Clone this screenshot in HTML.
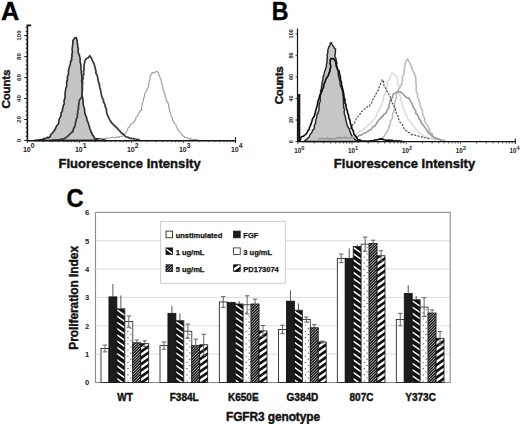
<!DOCTYPE html>
<html><head><meta charset="utf-8"><style>
html,body{margin:0;padding:0;background:#fff;width:520px;height:424px;overflow:hidden}
svg{display:block}
text{font-family:"Liberation Sans",sans-serif}
</style></head><body>
<svg width="520" height="424" viewBox="0 0 520 424">
<defs>
<pattern id="p1" patternUnits="userSpaceOnUse" width="5.12" height="5.12" patternTransform="rotate(35)">
  <rect width="5.12" height="5.12" fill="#111"/><rect width="5.12" height="1.75" fill="#fff"/>
</pattern>
<pattern id="p5" patternUnits="userSpaceOnUse" width="1.75" height="1.75" patternTransform="rotate(-42)">
  <rect width="1.75" height="1.75" fill="#fff"/><rect width="1.75" height="0.9" fill="#111"/>
</pattern>
<pattern id="pd" patternUnits="userSpaceOnUse" width="5.12" height="5.12" patternTransform="rotate(-35)">
  <rect width="5.12" height="5.12" fill="#fff"/><rect width="5.12" height="2.6" fill="#111"/>
</pattern>
<pattern id="p3" patternUnits="userSpaceOnUse" width="5" height="5">
  <rect width="5" height="5" fill="#fff"/>
</pattern>
<clipPath id="c3"><rect x="116.90" y="308.79" width="7.95" height="73.71"/></clipPath><clipPath id="c5"><rect x="132.80" y="342.81" width="7.95" height="39.69"/></clipPath><clipPath id="c6"><rect x="140.75" y="343.66" width="7.95" height="38.84"/></clipPath><clipPath id="c9"><rect x="175.90" y="320.70" width="7.95" height="61.80"/></clipPath><clipPath id="c11"><rect x="191.80" y="345.64" width="7.95" height="36.86"/></clipPath><clipPath id="c12"><rect x="199.75" y="344.79" width="7.95" height="37.71"/></clipPath><clipPath id="c15"><rect x="235.20" y="303.97" width="7.95" height="78.53"/></clipPath><clipPath id="c17"><rect x="251.10" y="303.97" width="7.95" height="78.53"/></clipPath><clipPath id="c18"><rect x="259.05" y="330.90" width="7.95" height="51.60"/></clipPath><clipPath id="c21"><rect x="294.40" y="310.21" width="7.95" height="72.29"/></clipPath><clipPath id="c23"><rect x="310.30" y="327.78" width="7.95" height="54.72"/></clipPath><clipPath id="c24"><rect x="318.25" y="341.96" width="7.95" height="40.54"/></clipPath><clipPath id="c27"><rect x="353.20" y="246.42" width="7.95" height="136.08"/></clipPath><clipPath id="c29"><rect x="369.10" y="243.59" width="7.95" height="138.91"/></clipPath><clipPath id="c30"><rect x="377.05" y="255.78" width="7.95" height="126.72"/></clipPath><clipPath id="c33"><rect x="412.20" y="299.72" width="7.95" height="82.78"/></clipPath><clipPath id="c35"><rect x="428.10" y="313.04" width="7.95" height="69.46"/></clipPath><clipPath id="c36"><rect x="436.05" y="338.27" width="7.95" height="44.23"/></clipPath><clipPath id="c39"><rect x="166.00" y="247.90" width="6.60" height="6.70"/></clipPath><clipPath id="c41"><rect x="166.00" y="264.80" width="6.60" height="6.70"/></clipPath><clipPath id="c42"><rect x="233.60" y="264.80" width="6.60" height="6.70"/></clipPath></defs>
<rect width="520" height="424" fill="#fff"/>
<path d="M34.0,140.5 L35.7,140.3 L37.9,140.0 L39.2,139.9 L40.5,139.6 L42.5,139.4 L43.7,138.6 L45.3,138.6 L47.4,137.4 L49.0,137.6 L50.1,136.7 L50.5,135.0 L51.7,133.8 L52.6,132.7 L53.6,131.4 L54.7,130.1 L55.4,128.6 L56.1,127.2 L56.9,125.4 L58.2,124.3 L58.8,122.5 L58.9,120.4 L59.4,118.6 L60.2,117.4 L60.7,115.9 L61.2,115.0 L60.9,113.0 L62.0,111.8 L62.6,110.2 L62.3,108.8 L63.3,106.9 L63.1,105.6 L64.3,104.0 L64.0,101.7 L64.3,99.6 L65.1,97.9 L65.1,96.2 L65.0,94.3 L65.2,92.5 L65.5,90.2 L65.9,87.9 L66.8,86.0 L66.6,83.8 L66.8,81.4 L67.6,79.7 L67.3,78.2 L67.7,75.8 L68.5,74.1 L68.4,72.0 L68.5,70.5 L69.0,68.5 L69.4,66.5 L70.2,64.8 L70.4,63.3 L70.7,61.2 L71.8,59.8 L71.5,57.7 L72.1,56.4 L71.8,54.4 L72.5,52.2 L72.2,50.0 L72.1,49.0 L72.4,47.1 L72.5,45.7 L72.9,43.8 L72.8,42.3 L72.9,40.5 L73.6,39.6 L74.6,37.9 L76.3,37.7 L76.6,39.0 L77.3,40.7 L77.2,42.8 L77.7,44.6 L77.7,46.8 L78.3,48.2 L78.3,49.8 L78.0,50.9 L78.3,53.3 L79.5,54.8 L79.4,56.0 L80.1,58.2 L80.1,60.2 L80.1,61.8 L80.7,64.1 L80.9,65.9 L81.1,67.8 L80.9,69.5 L81.5,71.4 L81.3,73.2 L81.8,75.0 L81.8,76.8 L81.9,79.1 L81.6,81.3 L82.5,83.6 L82.4,85.5 L82.5,88.1 L82.3,90.8 L82.1,93.3 L82.1,95.6 L82.6,97.6 L83.0,99.8 L83.1,102.0 L83.1,103.0 L83.4,105.2 L83.7,106.5 L84.6,108.8 L84.5,110.8 L84.8,112.5 L85.1,114.1 L86.0,116.2 L86.6,117.5 L86.9,119.0 L87.0,120.6 L88.1,122.4 L88.6,124.1 L88.8,125.0 L89.4,126.8 L89.8,128.5 L90.6,130.1 L90.9,131.8 L92.0,133.1 L91.9,134.1 L93.3,135.6 L94.1,137.3 L95.0,138.7 L96.4,138.7 L98.4,138.7 L100.2,139.1 L101.1,139.1 L103.0,139.7 L104.4,140.1 L106.1,140.6 L105.9,140.2 Z" fill="#c5c5c5" stroke="#2a2a2a" stroke-width="1.6"/>
<path d="M98.0,139.6 L99.5,139.4 L101.4,139.2 L103.5,138.3 L104.5,139.0 L106.3,138.1 L109.1,138.0 L110.8,137.7 L112.6,137.1 L114.1,137.8 L115.6,137.6 L117.4,136.8 L119.0,137.3 L120.3,136.3 L122.3,136.2 L123.4,135.7 L124.7,134.5 L125.3,133.2 L126.2,132.2 L127.7,129.8 L127.7,128.3 L129.6,126.9 L130.2,125.2 L131.1,124.1 L132.1,123.2 L133.5,122.5 L134.7,120.9 L135.6,119.7 L136.0,117.3 L137.1,116.5 L137.9,114.7 L138.6,113.0 L139.6,112.4 L140.1,110.6 L141.7,110.3 L141.4,108.0 L142.1,105.2 L142.3,103.8 L143.3,101.0 L143.2,99.5 L143.6,98.2 L144.3,97.6 L144.3,96.3 L144.7,93.7 L145.6,92.2 L145.9,91.4 L147.3,89.9 L147.1,89.4 L147.8,88.1 L148.8,85.8 L148.5,84.3 L149.0,82.8 L149.3,80.9 L150.2,78.9 L150.0,77.6 L150.3,75.6 L151.7,74.5 L152.0,72.4 L153.1,72.6 L153.9,73.1 L155.9,71.6 L157.1,71.6 L158.4,72.5 L159.0,74.4 L158.7,74.9 L160.1,77.3 L160.2,78.3 L161.1,79.5 L161.2,81.1 L161.7,83.2 L162.0,84.7 L162.8,85.7 L162.8,88.0 L162.9,89.2 L164.0,90.7 L163.9,92.4 L165.0,93.7 L164.8,95.6 L165.7,97.1 L166.1,98.3 L166.2,100.5 L167.7,101.7 L167.6,102.6 L168.5,104.1 L169.0,106.3 L168.5,107.2 L169.6,109.4 L169.9,110.4 L169.5,111.9 L170.8,113.5 L170.8,115.3 L171.4,116.8 L172.6,117.8 L172.4,120.6 L174.4,122.4 L174.8,124.2 L176.0,124.6 L176.4,126.6 L177.0,127.5 L177.4,129.0 L178.3,130.2 L179.6,131.9 L180.8,132.9 L182.0,134.8 L183.1,136.0 L184.3,136.5 L184.4,137.4 L186.0,137.5 L188.0,138.2 L189.1,139.0 L190.7,138.6 L192.1,139.5 L194.3,139.6 L195.7,139.1 L197.5,140.0 L198.5,139.7" fill="none" stroke="#9c9c9c" stroke-width="1.1"/>
<path d="M50.0,140.5 L51.8,140.5 L53.6,139.9 L54.9,139.9 L56.6,140.1 L58.4,139.8 L59.9,139.6 L61.3,139.0 L63.0,139.0 L64.6,138.4 L66.0,137.6 L67.5,136.4 L69.1,134.9 L69.7,134.4 L71.4,132.5 L72.9,131.8 L73.1,129.8 L73.7,128.4 L74.7,126.8 L75.2,124.9 L75.3,123.5 L75.8,121.8 L76.2,120.5 L76.4,118.7 L77.0,117.9 L77.5,116.2 L77.3,114.4 L77.9,113.2 L77.7,111.3 L78.1,110.0 L78.6,108.5 L78.2,107.4 L78.7,105.7 L78.8,103.6 L79.2,101.9 L79.4,100.0 L80.5,98.7 L81.5,97.2 L82.2,95.7 L82.0,93.9 L82.1,91.9 L82.2,90.4 L82.2,88.4 L82.0,86.5 L82.3,84.1 L82.7,82.8 L82.3,80.4 L83.1,78.7 L82.9,76.8 L82.9,75.7 L83.8,74.5 L83.6,72.2 L83.6,71.3 L84.1,69.6 L83.8,67.9 L84.1,66.3 L84.0,65.0 L84.7,62.9 L84.6,61.8 L85.1,60.3 L86.2,58.8 L87.9,58.0 L88.7,57.1 L89.8,56.0 L90.3,56.8 L91.3,57.8 L92.0,59.8 L92.7,61.1 L93.6,62.9 L94.1,63.9 L94.6,66.0 L95.2,67.4 L95.3,69.1 L96.0,71.2 L95.9,73.2 L97.1,75.1 L97.6,77.1 L97.8,78.8 L98.1,80.1 L98.5,82.1 L99.4,84.3 L99.6,86.0 L99.7,87.8 L100.6,89.5 L100.7,91.4 L101.1,93.4 L101.4,94.8 L102.1,97.4 L102.9,98.8 L103.6,100.1 L103.4,101.7 L104.3,103.1 L105.0,104.9 L105.2,106.8 L106.3,108.4 L106.3,110.5 L106.7,112.4 L107.2,114.4 L108.0,115.7 L108.2,116.8 L109.4,119.0 L109.9,120.3 L111.1,121.8 L111.6,123.0 L112.9,124.0 L114.0,125.4 L115.5,126.5 L116.4,127.5 L117.7,128.6 L118.6,129.8 L119.7,130.8 L120.7,132.3 L121.9,133.2 L123.5,134.5 L124.7,135.7 L125.9,136.8 L127.8,137.0 L128.8,137.9 L130.9,138.4 L132.4,138.6 L133.8,138.7 L135.2,139.0 L136.9,139.3 L139.0,139.5 L139.6,139.9" fill="none" stroke="#3a3a3a" stroke-width="1.75"/>
<path d="M31.2,25.4 H27.4 V140.7 H235.5" fill="none" stroke="#111" stroke-width="1.6"/>
<path d="M25.6,140.5H27.5 M25.6,136.3H27.5 M25.6,132.1H27.5 M25.6,127.9H27.5 M25.6,123.7H27.5 M25.6,119.5H27.5 M25.6,115.3H27.5 M25.6,111.1H27.5 M25.6,106.9H27.5 M25.6,102.7H27.5 M25.6,98.5H27.5 M25.6,94.3H27.5 M25.6,90.1H27.5 M25.6,86.0H27.5 M25.6,81.8H27.5 M25.6,77.6H27.5 M25.6,73.4H27.5 M25.6,69.2H27.5 M25.6,65.0H27.5 M25.6,60.8H27.5 M25.6,56.6H27.5 M25.6,52.4H27.5 M25.6,48.2H27.5 M25.6,44.0H27.5 M25.6,39.8H27.5 M25.6,35.6H27.5 M25.6,31.4H27.5 M25.6,27.2H27.5 M24.2,140.5H27.5 M24.2,119.5H27.5 M24.2,98.5H27.5 M24.2,77.6H27.5 M24.2,56.6H27.5 M24.2,35.6H27.5" stroke="#111" stroke-width="0.9"/>
<text x="0" y="0" transform="translate(20.5,140.5) rotate(-90)" text-anchor="middle" font-size="6.2" font-weight="bold" font-family="'Liberation Sans', sans-serif" fill="#222">0</text>
<text x="0" y="0" transform="translate(20.5,119.5) rotate(-90)" text-anchor="middle" font-size="6.2" font-weight="bold" font-family="'Liberation Sans', sans-serif" fill="#222">20</text>
<text x="0" y="0" transform="translate(20.5,98.5) rotate(-90)" text-anchor="middle" font-size="6.2" font-weight="bold" font-family="'Liberation Sans', sans-serif" fill="#222">40</text>
<text x="0" y="0" transform="translate(20.5,77.6) rotate(-90)" text-anchor="middle" font-size="6.2" font-weight="bold" font-family="'Liberation Sans', sans-serif" fill="#222">60</text>
<text x="0" y="0" transform="translate(20.5,56.6) rotate(-90)" text-anchor="middle" font-size="6.2" font-weight="bold" font-family="'Liberation Sans', sans-serif" fill="#222">80</text>
<text x="0" y="0" transform="translate(20.5,35.6) rotate(-90)" text-anchor="middle" font-size="6.2" font-weight="bold" font-family="'Liberation Sans', sans-serif" fill="#222">100</text>
<path d="M27.5,140.5V143 M43.2,140.5V142.3 M52.3,140.5V142.3 M58.8,140.5V142.3 M63.8,140.5V142.3 M68.0,140.5V142.3 M71.4,140.5V142.3 M74.5,140.5V142.3 M77.1,140.5V142.3 M79.5,140.5V143 M95.2,140.5V142.3 M104.3,140.5V142.3 M110.8,140.5V142.3 M115.8,140.5V142.3 M120.0,140.5V142.3 M123.4,140.5V142.3 M126.5,140.5V142.3 M129.1,140.5V142.3 M131.5,140.5V143 M147.2,140.5V142.3 M156.3,140.5V142.3 M162.8,140.5V142.3 M167.8,140.5V142.3 M172.0,140.5V142.3 M175.4,140.5V142.3 M178.5,140.5V142.3 M181.1,140.5V142.3 M183.5,140.5V143 M199.2,140.5V142.3 M208.3,140.5V142.3 M214.8,140.5V142.3 M219.8,140.5V142.3 M224.0,140.5V142.3 M227.4,140.5V142.3 M230.5,140.5V142.3 M233.1,140.5V142.3" stroke="#222" stroke-width="0.7"/>
<path d="M235.5,137V143" stroke="#111" stroke-width="1"/>
<text x="22.9" y="151.9" font-size="7" font-weight="bold" font-family="'Liberation Sans', sans-serif" fill="#222">10<tspan dy="-3.6" font-size="6.8">0</tspan></text>
<text x="74.9" y="151.9" font-size="7" font-weight="bold" font-family="'Liberation Sans', sans-serif" fill="#222">10<tspan dy="-3.6" font-size="6.8">1</tspan></text>
<text x="126.9" y="151.9" font-size="7" font-weight="bold" font-family="'Liberation Sans', sans-serif" fill="#222">10<tspan dy="-3.6" font-size="6.8">2</tspan></text>
<text x="178.9" y="151.9" font-size="7" font-weight="bold" font-family="'Liberation Sans', sans-serif" fill="#222">10<tspan dy="-3.6" font-size="6.8">3</tspan></text>
<text x="230.9" y="151.9" font-size="7" font-weight="bold" font-family="'Liberation Sans', sans-serif" fill="#222">10<tspan dy="-3.6" font-size="6.8">4</tspan></text>
<text x="58.4" y="167.6" font-size="13" font-weight="bold" stroke="#111" stroke-width="0.4" font-family="'Liberation Sans', sans-serif" textLength="142.3" lengthAdjust="spacing" fill="#111">Fluorescence Intensity</text>
<text x="0" y="0" transform="translate(10.1,108.4) rotate(-90)" font-size="11.6" font-weight="bold" stroke="#111" stroke-width="0.4" font-family="'Liberation Sans', sans-serif" textLength="38.8" lengthAdjust="spacing" fill="#111">Counts</text>
<text x="0" y="0" transform="translate(1,19.9) scale(1.035,1.04)" font-size="24.5" font-weight="bold" stroke="#111" stroke-width="0.4" font-family="'Liberation Sans', sans-serif" fill="#000">A</text>
<path d="M304.0,141.5 L305.0,140.6 L306.8,139.3 L307.7,138.3 L309.1,137.0 L309.7,135.6 L310.1,134.5 L311.4,132.9 L312.3,131.7 L312.5,130.2 L313.8,129.4 L314.3,127.8 L314.2,125.9 L315.0,124.3 L315.7,122.9 L315.5,121.6 L315.8,120.0 L316.5,118.0 L316.8,116.4 L317.1,114.5 L318.0,113.1 L318.4,111.5 L318.9,110.3 L319.0,108.4 L319.2,106.4 L319.1,104.2 L320.0,101.9 L320.3,100.3 L320.2,97.7 L320.4,95.5 L321.1,93.2 L320.5,90.7 L321.4,89.1 L321.6,86.4 L322.0,84.2 L322.2,81.8 L322.9,79.6 L323.0,77.1 L323.6,75.9 L324.1,73.9 L324.5,71.9 L324.8,70.9 L325.7,68.9 L326.0,67.4 L326.5,66.0 L326.4,64.3 L327.0,62.3 L327.2,60.5 L327.0,58.5 L327.5,56.7 L327.0,55.4 L327.6,53.5 L327.9,51.6 L327.8,50.0 L328.4,48.4 L328.7,46.9 L329.7,46.0 L330.1,44.2 L330.3,43.1 L331.5,42.7 L331.6,43.8 L332.9,45.6 L333.7,46.7 L334.3,48.0 L335.6,49.3 L335.4,51.1 L335.4,52.4 L335.1,54.8 L334.8,56.2 L335.7,58.1 L336.0,59.0 L336.2,61.3 L337.0,62.9 L336.6,64.4 L336.8,66.2 L337.1,68.3 L337.8,69.4 L338.0,71.3 L338.2,72.9 L338.2,74.5 L338.6,76.3 L339.1,78.0 L339.6,80.3 L340.1,81.9 L339.9,83.3 L340.3,84.9 L340.8,86.3 L341.3,87.7 L341.7,88.6 L342.2,90.5 L342.9,92.4 L342.8,94.7 L343.3,96.5 L343.2,99.2 L343.5,102.1 L343.5,104.6 L343.8,106.0 L343.6,107.8 L344.5,109.1 L344.2,111.3 L344.2,112.2 L344.4,114.4 L345.1,115.7 L345.3,116.8 L345.8,119.6 L346.3,121.7 L346.8,123.4 L347.2,125.3 L348.0,127.1 L349.1,128.7 L349.4,129.8 L349.9,131.4 L350.7,133.1 L351.2,134.6 L352.5,136.5 L353.8,138.1 L354.7,139.3 L356.1,140.4 L357.9,141.0 L359.1,141.6 L360.0,141.5 Z" fill="#c6c6c6" stroke="#222" stroke-width="1.4"/>
<path d="M348.0,139.0 L349.8,138.5 L351.4,138.1 L352.8,137.2 L353.7,135.5 L356.0,134.9 L357.2,133.4 L358.0,132.7 L359.4,132.2 L360.2,130.9 L361.9,130.8 L363.8,129.0 L365.1,128.1 L366.3,126.8 L366.8,126.6 L368.2,124.6 L370.5,124.0 L371.1,122.6 L372.8,120.8 L373.6,119.5 L375.3,117.9 L376.5,115.4 L376.8,113.6 L377.6,111.8 L378.9,110.8 L379.5,109.1 L380.7,106.8 L381.7,105.6 L381.6,104.2 L382.4,102.3 L383.2,100.9 L383.3,100.6 L382.9,99.2 L383.8,97.6 L383.8,95.6 L384.4,95.3 L384.8,93.8 L386.0,92.6 L385.7,90.5 L386.4,89.0 L386.4,86.9 L387.7,85.0 L387.3,83.2 L387.9,80.6 L389.2,79.5 L389.6,77.9 L390.6,75.8 L391.2,74.2 L392.0,73.2 L394.1,74.4 L394.6,74.5 L396.5,76.3 L396.5,77.2 L397.3,79.4 L397.6,80.7 L397.4,82.7 L397.6,83.7 L398.8,84.8 L398.9,87.3 L398.9,88.8 L398.3,90.1 L398.5,92.3 L399.0,93.8 L400.2,96.2 L400.8,97.9 L400.9,100.5 L401.6,102.3 L402.3,104.4 L403.0,107.7 L404.6,109.6 L404.8,111.6 L405.3,113.8 L407.1,116.7 L407.7,118.6 L409.6,120.5 L410.9,122.5 L412.0,124.2 L413.2,125.5 L414.8,127.1 L415.1,128.5 L416.6,129.4 L417.0,130.6 L418.6,132.1 L420.3,133.6 L422.0,134.8 L423.4,135.7 L425.3,136.6 L426.3,137.2 L428.4,137.5 L429.9,138.3 L430.7,138.2 L431.7,139.0 L434.0,138.9 L435.4,139.6 L436.0,139.5" fill="none" stroke="#d6d6d6" stroke-width="1.3"/>
<path d="M372.0,140.3 L374.3,140.5 L375.7,139.6 L377.0,139.8 L379.3,139.5 L380.5,139.1 L381.9,138.3 L383.8,136.7 L384.8,135.4 L385.4,133.8 L387.0,131.8 L388.0,130.4 L388.9,128.0 L388.8,126.6 L390.4,124.0 L390.3,121.5 L391.6,119.3 L392.7,117.4 L392.3,115.2 L393.0,113.3 L394.2,110.5 L394.2,108.5 L394.8,106.6 L394.3,103.6 L395.4,101.3 L395.8,98.7 L396.6,97.0 L396.1,94.9 L397.0,92.2 L398.0,90.3 L398.6,89.5 L400.2,86.8 L401.2,85.1 L401.5,84.1 L402.4,80.9 L402.4,79.6 L402.3,78.9 L402.4,76.7 L403.5,75.2 L403.9,73.6 L404.3,71.8 L404.3,69.7 L404.4,67.9 L405.1,66.0 L405.1,64.4 L405.6,61.9 L406.5,60.6 L406.9,59.6 L407.8,59.0 L408.6,61.2 L409.5,62.2 L410.3,64.6 L410.7,65.8 L411.9,67.4 L411.7,68.7 L412.6,69.7 L413.2,71.5 L414.5,73.3 L415.0,76.2 L415.9,78.2 L415.7,79.8 L415.7,81.8 L416.4,84.3 L416.0,85.1 L416.4,87.2 L416.1,90.0 L416.4,91.8 L417.0,93.8 L417.8,94.3 L417.3,96.7 L418.4,98.6 L419.3,101.2 L419.7,102.8 L419.9,104.7 L420.6,107.3 L421.8,109.0 L422.5,111.2 L422.5,114.1 L423.7,116.7 L424.7,118.7 L424.9,121.1 L425.7,123.2 L427.6,125.8 L428.6,127.4 L429.3,129.9 L429.8,132.1 L431.8,133.4 L432.8,135.2 L433.4,137.0 L434.2,138.3 L437.1,138.7 L438.8,139.1 L440.4,139.7 L442.5,140.3 L444.5,140.1 L445.1,141.1 L446.0,140.8" fill="none" stroke="#bdbdbd" stroke-width="1.6"/>
<path d="M318.0,139.5 L319.6,138.8 L321.7,138.5 L323.4,138.6 L324.6,138.6 L326.2,138.4 L327.9,138.1 L329.9,139.1 L331.1,138.4 L333.4,139.4 L334.9,138.6 L337.0,137.9 L338.4,137.9 L339.2,137.4 L341.0,138.0 L342.4,137.7 L344.6,137.6 L346.1,137.4 L347.1,137.8 L349.4,138.1 L350.6,138.2 L352.4,137.6 L354.4,137.7 L355.3,137.1 L357.2,137.0 L358.9,135.8 L360.6,135.0 L361.3,135.1 L362.3,134.1 L363.5,133.6 L365.7,132.7 L367.2,131.6 L368.3,131.1 L369.5,130.0 L371.1,129.6 L372.0,128.1 L372.9,126.9 L375.0,125.8 L376.6,123.5 L377.3,122.6 L378.1,121.0 L379.5,119.2 L380.5,118.7 L381.7,116.7 L383.1,116.1 L383.7,114.3 L385.3,113.5 L386.5,112.1 L386.8,110.2 L387.7,109.4 L389.1,107.2 L388.8,105.4 L389.4,103.7 L390.2,102.0 L390.1,100.7 L391.1,99.2 L392.5,97.6 L392.7,95.8 L393.6,93.7 L395.2,93.2 L396.7,92.3 L397.7,91.5 L399.0,91.8 L400.3,91.9 L401.7,93.1 L403.0,93.9 L403.7,95.0 L405.3,96.4 L406.6,97.7 L408.7,97.8 L409.7,99.8 L410.7,101.1 L412.2,104.0 L412.6,105.4 L413.1,106.9 L414.3,108.9 L415.7,110.6 L415.6,113.3 L417.1,114.2 L418.1,115.8 L419.0,118.8 L420.5,120.2 L420.9,121.7 L422.0,123.9 L423.6,125.7 L424.5,126.7 L426.1,129.3 L427.3,130.7 L428.3,132.2 L428.8,133.4 L430.2,134.0 L431.1,135.4 L432.8,136.9 L435.0,137.5 L436.3,138.8 L437.6,138.7 L438.0,139.1 L439.9,139.7 L441.8,140.9 L442.0,140.5" fill="none" stroke="#9a9a9a" stroke-width="1.6"/>
<path d="M350.5,129.0 L351.2,127.0 L352.2,125.8 L352.5,124.8 L354.4,123.6 L355.2,121.2 L356.0,119.4 L356.6,117.5 L357.7,116.9 L359.4,115.2 L360.5,112.9 L361.0,111.9 L362.7,110.9 L364.1,108.9 L365.2,108.8 L366.5,107.4 L367.8,106.5 L369.5,106.4 L370.0,104.6 L371.1,103.8 L371.7,102.8 L372.2,100.5 L373.3,98.9 L373.8,97.2 L375.6,95.4 L375.7,94.3 L376.6,92.9 L377.4,91.4 L378.6,89.8 L378.6,88.4 L379.5,86.9 L379.9,85.7 L380.7,83.5 L382.1,81.2 L382.1,80.0 L383.7,81.5 L383.5,83.0 L383.8,85.0 L384.3,86.8 L386.0,88.6 L386.6,90.1 L386.7,91.0 L388.5,92.8 L388.9,94.8 L390.0,96.2 L390.2,97.0 L391.0,98.5 L391.6,101.1 L392.1,101.5 L392.4,103.4 L393.8,105.0 L393.9,106.4 L395.6,109.0 L395.6,110.9 L396.3,113.5 L398.1,115.8 L398.2,118.3 L399.3,120.8 L400.0,122.1 L401.6,123.7 L402.8,125.4 L403.1,126.9 L404.0,128.4 L405.6,130.4 L407.6,131.3 L408.2,132.2 L410.0,133.1 L411.8,134.8 L413.6,134.5 L416.4,135.7 L418.3,136.0 L419.8,136.7 L421.1,137.1 L422.8,136.6 L424.3,137.7 L426.8,138.1 L427.8,138.2 L430.1,138.6 L430.0,138.5" fill="none" stroke="#444" stroke-width="1.1" stroke-dasharray="2.2,1.3"/>
<path d="M300.0,141.0 L300.6,139.1 L300.3,138.4 L301.5,136.7 L303.4,136.2 L304.8,135.2 L306.0,134.2 L306.5,133.4 L307.3,132.1 L308.3,130.2 L309.3,129.1 L309.6,126.7 L310.5,125.4 L311.1,123.9 L311.6,122.2 L312.1,120.5 L312.3,119.4 L313.2,117.6 L314.5,116.0 L314.6,114.7 L315.5,112.7 L315.5,111.1 L315.9,110.0 L316.5,108.1 L316.8,106.8 L317.6,104.6 L317.6,103.0 L318.0,101.3 L318.7,99.3 L319.4,97.7 L319.5,96.2 L320.4,93.9 L321.2,92.4 L322.2,90.7 L322.4,89.0 L323.4,87.7 L323.6,86.5 L323.8,85.1 L324.2,83.4 L324.8,82.6 L325.4,80.7 L326.2,78.7 L326.8,77.7 L328.1,75.8 L328.8,73.9 L329.1,72.7 L329.9,71.4 L329.9,69.9 L330.4,68.1 L330.7,67.0 L330.6,65.4 L330.0,63.3 L330.4,61.5 L330.1,60.0 L331.1,58.4 L332.1,58.7 L333.6,58.9 L334.6,60.0 L335.8,61.4 L335.7,63.1 L336.1,64.6 L336.3,66.4 L337.4,68.3 L337.5,69.6 L339.1,70.9 L339.4,73.2 L339.9,74.9 L340.4,76.4 L340.3,78.1 L340.6,79.7 L341.1,81.4 L341.6,83.3 L341.2,84.6 L342.1,86.3 L342.4,88.3 L343.0,90.1 L343.2,92.5 L343.7,93.3 L343.8,95.1 L344.2,98.3 L344.9,99.1 L344.9,101.3 L345.0,103.1 L346.0,104.6 L345.9,106.5 L346.4,107.6 L346.5,109.1 L347.3,110.8 L347.8,113.5 L348.6,115.2 L348.7,117.8 L349.6,119.4 L350.1,121.3 L350.3,123.1 L351.1,125.3 L351.8,127.7 L352.1,129.2 L353.3,130.9 L353.6,132.5 L353.8,134.0 L355.1,135.7 L356.3,136.7 L356.7,138.1 L358.1,139.7 L360.0,140.1 L361.3,140.8 L363.1,141.2 L365.9,141.1 L368.2,141.3 L370.1,140.9 L371.4,140.8 L372.9,141.1 L374.9,140.0 L376.4,139.8 L378.0,139.5 L379.2,139.2 L380.9,138.9 L382.7,139.1 L384.0,140.0 L385.8,140.0 L386.6,140.7 L388.8,140.2 L390.4,140.3 L392.3,140.4 L394.7,141.3 L396.7,140.7 L397.9,141.4 L399.3,140.9 L401.7,141.4 L403.9,141.7 L403.6,141.6" fill="none" stroke="#111" stroke-width="1.7"/>
<path d="M299.2,94V141.5" stroke="#111" stroke-width="2.2"/>
<path d="M297.5,28.5 V141.6 H515.5" fill="none" stroke="#111" stroke-width="1.2"/>
<path d="M295.5,141.6H297.5 M295.5,120.0H297.5 M295.5,98.5H297.5 M295.5,76.9H297.5 M295.5,55.4H297.5 M295.5,33.8H297.5" stroke="#111" stroke-width="0.8"/>
<text x="0" y="0" transform="translate(292.5,141.6) rotate(-90)" text-anchor="middle" font-size="5.6" font-weight="bold" font-family="'Liberation Sans', sans-serif" fill="#222">0</text>
<text x="0" y="0" transform="translate(292.5,120.0) rotate(-90)" text-anchor="middle" font-size="5.6" font-weight="bold" font-family="'Liberation Sans', sans-serif" fill="#222">20</text>
<text x="0" y="0" transform="translate(292.5,98.5) rotate(-90)" text-anchor="middle" font-size="5.6" font-weight="bold" font-family="'Liberation Sans', sans-serif" fill="#222">40</text>
<text x="0" y="0" transform="translate(292.5,76.9) rotate(-90)" text-anchor="middle" font-size="5.6" font-weight="bold" font-family="'Liberation Sans', sans-serif" fill="#222">60</text>
<text x="0" y="0" transform="translate(292.5,55.4) rotate(-90)" text-anchor="middle" font-size="5.6" font-weight="bold" font-family="'Liberation Sans', sans-serif" fill="#222">80</text>
<text x="0" y="0" transform="translate(292.5,33.8) rotate(-90)" text-anchor="middle" font-size="5.6" font-weight="bold" font-family="'Liberation Sans', sans-serif" fill="#222">100</text>
<path d="M297.8,141.6V144.3 M314.1,141.6V143.6 M323.7,141.6V143.6 M330.4,141.6V143.6 M335.7,141.6V143.6 M340.0,141.6V143.6 M343.6,141.6V143.6 M346.7,141.6V143.6 M349.5,141.6V143.6 M352.0,141.6V144.3 M368.3,141.6V143.6 M377.9,141.6V143.6 M384.6,141.6V143.6 M389.9,141.6V143.6 M394.2,141.6V143.6 M397.8,141.6V143.6 M400.9,141.6V143.6 M403.7,141.6V143.6 M406.2,141.6V144.3 M422.5,141.6V143.6 M432.1,141.6V143.6 M438.8,141.6V143.6 M444.1,141.6V143.6 M448.4,141.6V143.6 M452.0,141.6V143.6 M455.1,141.6V143.6 M457.9,141.6V143.6 M460.4,141.6V144.3 M476.7,141.6V143.6 M486.3,141.6V143.6 M493.0,141.6V143.6 M498.3,141.6V143.6 M502.6,141.6V143.6 M506.2,141.6V143.6 M509.3,141.6V143.6 M512.1,141.6V143.6" stroke="#222" stroke-width="0.7"/>
<path d="M515.3,138.5V144" stroke="#111" stroke-width="1"/>
<text x="294.3" y="152.9" font-size="6.3" font-weight="bold" font-family="'Liberation Sans', sans-serif" fill="#222">10<tspan dy="-3.2" font-size="5.6">0</tspan></text>
<text x="348.1" y="152.9" font-size="6.3" font-weight="bold" font-family="'Liberation Sans', sans-serif" fill="#222">10<tspan dy="-3.2" font-size="5.6">1</tspan></text>
<text x="401.9" y="152.9" font-size="6.3" font-weight="bold" font-family="'Liberation Sans', sans-serif" fill="#222">10<tspan dy="-3.2" font-size="5.6">2</tspan></text>
<text x="455.7" y="152.9" font-size="6.3" font-weight="bold" font-family="'Liberation Sans', sans-serif" fill="#222">10<tspan dy="-3.2" font-size="5.6">3</tspan></text>
<text x="509.5" y="152.9" font-size="6.3" font-weight="bold" font-family="'Liberation Sans', sans-serif" fill="#222">10<tspan dy="-3.2" font-size="5.6">4</tspan></text>
<text x="333.8" y="167.6" font-size="13" font-weight="bold" stroke="#111" stroke-width="0.4" font-family="'Liberation Sans', sans-serif" textLength="141.4" lengthAdjust="spacing" fill="#111">Fluorescence Intensity</text>
<text x="0" y="0" transform="translate(282.6,104.2) rotate(-90)" font-size="11.6" font-weight="bold" stroke="#111" stroke-width="0.4" font-family="'Liberation Sans', sans-serif" textLength="37.8" lengthAdjust="spacing" fill="#111">Counts</text>
<text x="0" y="0" transform="translate(271.75,19.9) scale(0.947,1.067)" font-size="24.5" font-weight="bold" stroke="#111" stroke-width="0.4" font-family="'Liberation Sans', sans-serif" fill="#000">B</text>
<text x="0" y="0" transform="translate(66.54,207.3) scale(0.946,1.03)" font-size="25" font-weight="bold" stroke="#111" stroke-width="0.4" font-family="'Liberation Sans', sans-serif" fill="#000">C</text>
<path d="M95.5,354.1H450.2" stroke="#d8d8d8" stroke-width="0.9"/>
<path d="M95.5,325.8H450.2" stroke="#d8d8d8" stroke-width="0.9"/>
<path d="M95.5,297.4H450.2" stroke="#d8d8d8" stroke-width="0.9"/>
<path d="M95.5,269.1H450.2" stroke="#d8d8d8" stroke-width="0.9"/>
<path d="M95.5,240.8H450.2" stroke="#d8d8d8" stroke-width="0.9"/>
<rect x="95.5" y="212.4" width="354.7" height="170.1" fill="none" stroke="#8c8c8c" stroke-width="1.1"/>
<text x="87.0" y="385.3" text-anchor="middle" font-size="7.6" font-weight="bold" font-family="'Liberation Sans', sans-serif" fill="#222">0</text>
<text x="87.0" y="356.9" text-anchor="middle" font-size="7.6" font-weight="bold" font-family="'Liberation Sans', sans-serif" fill="#222">1</text>
<text x="87.0" y="328.6" text-anchor="middle" font-size="7.6" font-weight="bold" font-family="'Liberation Sans', sans-serif" fill="#222">2</text>
<text x="87.0" y="300.2" text-anchor="middle" font-size="7.6" font-weight="bold" font-family="'Liberation Sans', sans-serif" fill="#222">3</text>
<text x="87.0" y="271.9" text-anchor="middle" font-size="7.6" font-weight="bold" font-family="'Liberation Sans', sans-serif" fill="#222">4</text>
<text x="87.0" y="243.6" text-anchor="middle" font-size="7.6" font-weight="bold" font-family="'Liberation Sans', sans-serif" fill="#222">5</text>
<text x="87.0" y="215.2" text-anchor="middle" font-size="7.6" font-weight="bold" font-family="'Liberation Sans', sans-serif" fill="#222">6</text>
<path d="M93,382.5H95.5 M93,354.1H95.5 M93,325.8H95.5 M93,297.4H95.5 M93,269.1H95.5 M93,240.8H95.5 M93,212.4H95.5" stroke="#ddd" stroke-width="0.6"/>
<text x="0" y="0" transform="translate(78.0,349.7) rotate(-90)" font-size="12" font-weight="bold" stroke="#111" stroke-width="0.4" font-family="'Liberation Sans', sans-serif" textLength="103.8" lengthAdjust="spacing" fill="#111">Proliferation Index</text>
<text x="226" y="420.7" font-size="11.9" font-weight="bold" stroke="#111" stroke-width="0.4" font-family="'Liberation Sans', sans-serif" textLength="94.1" lengthAdjust="spacing" fill="#111">FGFR3 genotype</text>
<rect x="101.00" y="348.48" width="7.95" height="34.02" fill="#fff" stroke="#111" stroke-width="0.8"/>
<rect x="108.95" y="296.88" width="7.95" height="85.62" fill="#1c1c1c" stroke="#111" stroke-width="0.8"/>
<g clip-path="url(#c3)"><rect x="116.90" y="308.79" width="7.95" height="73.71" fill="#111"/><path d="M115.90,290.34L125.85,297.31M115.90,296.59L125.85,303.56M115.90,302.84L125.85,309.81M115.90,309.09L125.85,316.06M115.90,315.34L125.85,322.31M115.90,321.59L125.85,328.56M115.90,327.84L125.85,334.81M115.90,334.09L125.85,341.06M115.90,340.34L125.85,347.31M115.90,346.59L125.85,353.56M115.90,352.84L125.85,359.81M115.90,359.09L125.85,366.06M115.90,365.34L125.85,372.31M115.90,371.59L125.85,378.56M115.90,377.84L125.85,384.81M115.90,384.09L125.85,391.06M115.90,390.34L125.85,397.31" stroke="#fff" stroke-width="1.50" fill="none"/></g><rect x="116.90" y="308.79" width="7.95" height="73.71" fill="none" stroke="#111" stroke-width="0.8"/>
<rect x="124.85" y="321.55" width="7.95" height="60.95" fill="#fff" stroke="#222" stroke-width="0.8"/>
<g clip-path="url(#c5)"><rect x="132.80" y="342.81" width="7.95" height="39.69" fill="#fff"/><path d="M131.80,332.61L141.75,322.66M131.80,335.41L141.75,325.46M131.80,338.21L141.75,328.26M131.80,341.01L141.75,331.06M131.80,343.81L141.75,333.86M131.80,346.61L141.75,336.66M131.80,349.41L141.75,339.46M131.80,352.21L141.75,342.26M131.80,355.01L141.75,345.06M131.80,357.81L141.75,347.86M131.80,360.61L141.75,350.66M131.80,363.41L141.75,353.46M131.80,366.21L141.75,356.26M131.80,369.01L141.75,359.06M131.80,371.81L141.75,361.86M131.80,374.61L141.75,364.66M131.80,377.41L141.75,367.46M131.80,380.21L141.75,370.26M131.80,383.01L141.75,373.06M131.80,385.81L141.75,375.86M131.80,388.61L141.75,378.66M131.80,391.41L141.75,381.46M131.80,394.21L141.75,384.26" stroke="#111" stroke-width="1.45" fill="none"/></g><rect x="132.80" y="342.81" width="7.95" height="39.69" fill="none" stroke="#111" stroke-width="0.8"/>
<g clip-path="url(#c6)"><rect x="140.75" y="343.66" width="7.95" height="38.84" fill="#fff"/><path d="M139.75,327.61L149.70,320.64M139.75,333.86L149.70,326.89M139.75,340.11L149.70,333.14M139.75,346.36L149.70,339.39M139.75,352.61L149.70,345.64M139.75,358.86L149.70,351.89M139.75,365.11L149.70,358.14M139.75,371.36L149.70,364.39M139.75,377.61L149.70,370.64M139.75,383.86L149.70,376.89M139.75,390.11L149.70,383.14" stroke="#111" stroke-width="2.70" fill="none"/></g><rect x="140.75" y="343.66" width="7.95" height="38.84" fill="none" stroke="#111" stroke-width="0.8"/>
<path d="M127.35,380.50h1.1v1.1h-1.1zM130.25,377.40h1.1v1.1h-1.1zM127.35,374.30h1.1v1.1h-1.1zM130.25,371.20h1.1v1.1h-1.1zM127.35,368.10h1.1v1.1h-1.1zM130.25,365.00h1.1v1.1h-1.1zM127.35,361.90h1.1v1.1h-1.1zM130.25,358.80h1.1v1.1h-1.1zM127.35,355.70h1.1v1.1h-1.1zM130.25,352.60h1.1v1.1h-1.1zM127.35,349.50h1.1v1.1h-1.1zM130.25,346.40h1.1v1.1h-1.1zM127.35,343.30h1.1v1.1h-1.1zM130.25,340.20h1.1v1.1h-1.1zM127.35,337.10h1.1v1.1h-1.1zM130.25,334.00h1.1v1.1h-1.1zM127.35,330.90h1.1v1.1h-1.1zM130.25,327.80h1.1v1.1h-1.1zM127.35,324.70h1.1v1.1h-1.1z" fill="#555"/>
<path d="M104.97,345.08V351.88M102.77,345.08H107.17M102.77,351.88H107.17" stroke="#555" stroke-width="0.9" fill="none"/>
<path d="M112.92,284.13V296.88" stroke="#555" stroke-width="1" fill="none"/>
<path d="M120.88,295.47V308.79" stroke="#555" stroke-width="1" fill="none"/>
<path d="M128.82,315.88V327.22M126.62,315.88H131.02M126.62,327.22H131.02" stroke="#555" stroke-width="0.9" fill="none"/>
<path d="M136.78,339.98V345.64M134.58,339.98H138.97M134.58,345.64H138.97" stroke="#555" stroke-width="0.9" fill="none"/>
<path d="M144.72,340.83V346.50M142.53,340.83H146.92M142.53,346.50H146.92" stroke="#555" stroke-width="0.9" fill="none"/>
<text x="125.1" y="400.9" text-anchor="middle" font-size="10" font-weight="bold" stroke="#111" stroke-width="0.4" font-family="'Liberation Sans', sans-serif" fill="#111">WT</text>
<rect x="160.00" y="345.64" width="7.95" height="36.86" fill="#fff" stroke="#111" stroke-width="0.8"/>
<rect x="167.95" y="313.33" width="7.95" height="69.17" fill="#1c1c1c" stroke="#111" stroke-width="0.8"/>
<g clip-path="url(#c9)"><rect x="175.90" y="320.70" width="7.95" height="61.80" fill="#111"/><path d="M174.90,302.25L184.85,309.21M174.90,308.50L184.85,315.46M174.90,314.75L184.85,321.71M174.90,321.00L184.85,327.96M174.90,327.25L184.85,334.21M174.90,333.50L184.85,340.46M174.90,339.75L184.85,346.71M174.90,346.00L184.85,352.96M174.90,352.25L184.85,359.21M174.90,358.50L184.85,365.46M174.90,364.75L184.85,371.71M174.90,371.00L184.85,377.96M174.90,377.25L184.85,384.21M174.90,383.50L184.85,390.46M174.90,389.75L184.85,396.71" stroke="#fff" stroke-width="1.50" fill="none"/></g><rect x="175.90" y="320.70" width="7.95" height="61.80" fill="none" stroke="#111" stroke-width="0.8"/>
<rect x="183.85" y="331.19" width="7.95" height="51.31" fill="#fff" stroke="#222" stroke-width="0.8"/>
<g clip-path="url(#c11)"><rect x="191.80" y="345.64" width="7.95" height="36.86" fill="#fff"/><path d="M190.80,335.44L200.75,325.50M190.80,338.25L200.75,328.30M190.80,341.05L200.75,331.10M190.80,343.85L200.75,333.90M190.80,346.65L200.75,336.70M190.80,349.45L200.75,339.50M190.80,352.25L200.75,342.30M190.80,355.05L200.75,345.10M190.80,357.85L200.75,347.90M190.80,360.65L200.75,350.70M190.80,363.45L200.75,353.50M190.80,366.25L200.75,356.30M190.80,369.05L200.75,359.10M190.80,371.85L200.75,361.90M190.80,374.65L200.75,364.70M190.80,377.45L200.75,367.50M190.80,380.25L200.75,370.30M190.80,383.05L200.75,373.10M190.80,385.85L200.75,375.90M190.80,388.65L200.75,378.70M190.80,391.45L200.75,381.50M190.80,394.25L200.75,384.30" stroke="#111" stroke-width="1.45" fill="none"/></g><rect x="191.80" y="345.64" width="7.95" height="36.86" fill="none" stroke="#111" stroke-width="0.8"/>
<g clip-path="url(#c12)"><rect x="199.75" y="344.79" width="7.95" height="37.71" fill="#fff"/><path d="M198.75,328.74L208.70,321.78M198.75,334.99L208.70,328.03M198.75,341.24L208.70,334.28M198.75,347.49L208.70,340.53M198.75,353.74L208.70,346.78M198.75,359.99L208.70,353.03M198.75,366.24L208.70,359.28M198.75,372.49L208.70,365.53M198.75,378.74L208.70,371.78M198.75,384.99L208.70,378.03M198.75,391.24L208.70,384.28" stroke="#111" stroke-width="2.70" fill="none"/></g><rect x="199.75" y="344.79" width="7.95" height="37.71" fill="none" stroke="#111" stroke-width="0.8"/>
<path d="M186.35,380.50h1.1v1.1h-1.1zM189.25,377.40h1.1v1.1h-1.1zM186.35,374.30h1.1v1.1h-1.1zM189.25,371.20h1.1v1.1h-1.1zM186.35,368.10h1.1v1.1h-1.1zM189.25,365.00h1.1v1.1h-1.1zM186.35,361.90h1.1v1.1h-1.1zM189.25,358.80h1.1v1.1h-1.1zM186.35,355.70h1.1v1.1h-1.1zM189.25,352.60h1.1v1.1h-1.1zM186.35,349.50h1.1v1.1h-1.1zM189.25,346.40h1.1v1.1h-1.1zM186.35,343.30h1.1v1.1h-1.1zM189.25,340.20h1.1v1.1h-1.1zM186.35,337.10h1.1v1.1h-1.1zM189.25,334.00h1.1v1.1h-1.1z" fill="#555"/>
<path d="M163.97,341.96V349.33M161.78,341.96H166.17M161.78,349.33H166.17" stroke="#555" stroke-width="0.9" fill="none"/>
<path d="M171.92,305.96V313.33" stroke="#555" stroke-width="1" fill="none"/>
<path d="M179.88,313.33V320.70" stroke="#555" stroke-width="1" fill="none"/>
<path d="M187.82,324.10V338.27M185.62,324.10H190.02M185.62,338.27H190.02" stroke="#555" stroke-width="0.9" fill="none"/>
<path d="M195.78,339.12V352.17M193.58,339.12H197.97M193.58,352.17H197.97" stroke="#555" stroke-width="0.9" fill="none"/>
<path d="M203.72,334.30V355.28M201.53,334.30H205.92M201.53,355.28H205.92" stroke="#555" stroke-width="0.9" fill="none"/>
<text x="184.2" y="400.9" text-anchor="middle" font-size="10" font-weight="bold" stroke="#111" stroke-width="0.4" font-family="'Liberation Sans', sans-serif" fill="#111">F384L</text>
<rect x="219.30" y="301.99" width="7.95" height="80.51" fill="#fff" stroke="#111" stroke-width="0.8"/>
<rect x="227.25" y="302.55" width="7.95" height="79.95" fill="#1c1c1c" stroke="#111" stroke-width="0.8"/>
<g clip-path="url(#c15)"><rect x="235.20" y="303.97" width="7.95" height="78.53" fill="#111"/><path d="M234.20,285.52L244.15,292.49M234.20,291.77L244.15,298.74M234.20,298.02L244.15,304.99M234.20,304.27L244.15,311.24M234.20,310.52L244.15,317.49M234.20,316.77L244.15,323.74M234.20,323.02L244.15,329.99M234.20,329.27L244.15,336.24M234.20,335.52L244.15,342.49M234.20,341.77L244.15,348.74M234.20,348.02L244.15,354.99M234.20,354.27L244.15,361.24M234.20,360.52L244.15,367.49M234.20,366.77L244.15,373.74M234.20,373.02L244.15,379.99M234.20,379.27L244.15,386.24M234.20,385.52L244.15,392.49M234.20,391.77L244.15,398.74" stroke="#fff" stroke-width="1.50" fill="none"/></g><rect x="235.20" y="303.97" width="7.95" height="78.53" fill="none" stroke="#111" stroke-width="0.8"/>
<rect x="243.15" y="304.82" width="7.95" height="77.68" fill="#fff" stroke="#222" stroke-width="0.8"/>
<g clip-path="url(#c17)"><rect x="251.10" y="303.97" width="7.95" height="78.53" fill="#fff"/><path d="M250.10,293.77L260.05,283.82M250.10,296.57L260.05,286.62M250.10,299.37L260.05,289.42M250.10,302.17L260.05,292.22M250.10,304.97L260.05,295.02M250.10,307.77L260.05,297.82M250.10,310.57L260.05,300.62M250.10,313.37L260.05,303.42M250.10,316.17L260.05,306.22M250.10,318.97L260.05,309.02M250.10,321.77L260.05,311.82M250.10,324.57L260.05,314.62M250.10,327.37L260.05,317.42M250.10,330.17L260.05,320.22M250.10,332.97L260.05,323.02M250.10,335.77L260.05,325.82M250.10,338.57L260.05,328.62M250.10,341.37L260.05,331.42M250.10,344.17L260.05,334.22M250.10,346.97L260.05,337.02M250.10,349.77L260.05,339.82M250.10,352.57L260.05,342.62M250.10,355.37L260.05,345.42M250.10,358.17L260.05,348.22M250.10,360.97L260.05,351.02M250.10,363.77L260.05,353.82M250.10,366.57L260.05,356.62M250.10,369.37L260.05,359.42M250.10,372.17L260.05,362.22M250.10,374.97L260.05,365.02M250.10,377.77L260.05,367.82M250.10,380.57L260.05,370.62M250.10,383.37L260.05,373.42M250.10,386.17L260.05,376.22M250.10,388.97L260.05,379.02M250.10,391.77L260.05,381.82" stroke="#111" stroke-width="1.45" fill="none"/></g><rect x="251.10" y="303.97" width="7.95" height="78.53" fill="none" stroke="#111" stroke-width="0.8"/>
<g clip-path="url(#c18)"><rect x="259.05" y="330.90" width="7.95" height="51.60" fill="#fff"/><path d="M258.05,314.85L268.00,307.89M258.05,321.10L268.00,314.14M258.05,327.35L268.00,320.39M258.05,333.60L268.00,326.64M258.05,339.85L268.00,332.89M258.05,346.10L268.00,339.14M258.05,352.35L268.00,345.39M258.05,358.60L268.00,351.64M258.05,364.85L268.00,357.89M258.05,371.10L268.00,364.14M258.05,377.35L268.00,370.39M258.05,383.60L268.00,376.64M258.05,389.85L268.00,382.89" stroke="#111" stroke-width="2.70" fill="none"/></g><rect x="259.05" y="330.90" width="7.95" height="51.60" fill="none" stroke="#111" stroke-width="0.8"/>
<path d="M245.65,380.50h1.1v1.1h-1.1zM248.55,377.40h1.1v1.1h-1.1zM245.65,374.30h1.1v1.1h-1.1zM248.55,371.20h1.1v1.1h-1.1zM245.65,368.10h1.1v1.1h-1.1zM248.55,365.00h1.1v1.1h-1.1zM245.65,361.90h1.1v1.1h-1.1zM248.55,358.80h1.1v1.1h-1.1zM245.65,355.70h1.1v1.1h-1.1zM248.55,352.60h1.1v1.1h-1.1zM245.65,349.50h1.1v1.1h-1.1zM248.55,346.40h1.1v1.1h-1.1zM245.65,343.30h1.1v1.1h-1.1zM248.55,340.20h1.1v1.1h-1.1zM245.65,337.10h1.1v1.1h-1.1zM248.55,334.00h1.1v1.1h-1.1zM245.65,330.90h1.1v1.1h-1.1zM248.55,327.80h1.1v1.1h-1.1zM245.65,324.70h1.1v1.1h-1.1zM248.55,321.60h1.1v1.1h-1.1zM245.65,318.50h1.1v1.1h-1.1zM248.55,315.40h1.1v1.1h-1.1zM245.65,312.30h1.1v1.1h-1.1zM248.55,309.20h1.1v1.1h-1.1z" fill="#555"/>
<path d="M223.28,296.60V307.37M221.08,296.60H225.47M221.08,307.37H225.47" stroke="#555" stroke-width="0.9" fill="none"/>
<path d="M231.22,301.70V302.55" stroke="#555" stroke-width="1" fill="none"/>
<path d="M239.18,301.14V303.97" stroke="#555" stroke-width="1" fill="none"/>
<path d="M247.12,295.75V313.89M244.93,295.75H249.32M244.93,313.89H249.32" stroke="#555" stroke-width="0.9" fill="none"/>
<path d="M255.08,299.15V308.79M252.88,299.15H257.28M252.88,308.79H257.28" stroke="#555" stroke-width="0.9" fill="none"/>
<path d="M263.03,325.52V336.29M260.83,325.52H265.23M260.83,336.29H265.23" stroke="#555" stroke-width="0.9" fill="none"/>
<text x="243.3" y="400.9" text-anchor="middle" font-size="10" font-weight="bold" stroke="#111" stroke-width="0.4" font-family="'Liberation Sans', sans-serif" fill="#111">K650E</text>
<rect x="278.50" y="329.49" width="7.95" height="53.01" fill="#fff" stroke="#111" stroke-width="0.8"/>
<rect x="286.45" y="301.14" width="7.95" height="81.36" fill="#1c1c1c" stroke="#111" stroke-width="0.8"/>
<g clip-path="url(#c21)"><rect x="294.40" y="310.21" width="7.95" height="72.29" fill="#111"/><path d="M293.40,291.76L303.35,298.72M293.40,298.01L303.35,304.97M293.40,304.26L303.35,311.22M293.40,310.51L303.35,317.47M293.40,316.76L303.35,323.72M293.40,323.01L303.35,329.97M293.40,329.26L303.35,336.22M293.40,335.51L303.35,342.47M293.40,341.76L303.35,348.72M293.40,348.01L303.35,354.97M293.40,354.26L303.35,361.22M293.40,360.51L303.35,367.47M293.40,366.76L303.35,373.72M293.40,373.01L303.35,379.97M293.40,379.26L303.35,386.22M293.40,385.51L303.35,392.47M293.40,391.76L303.35,398.72" stroke="#fff" stroke-width="1.50" fill="none"/></g><rect x="294.40" y="310.21" width="7.95" height="72.29" fill="none" stroke="#111" stroke-width="0.8"/>
<rect x="302.35" y="319.56" width="7.95" height="62.94" fill="#fff" stroke="#222" stroke-width="0.8"/>
<g clip-path="url(#c23)"><rect x="310.30" y="327.78" width="7.95" height="54.72" fill="#fff"/><path d="M309.30,317.58L319.25,307.63M309.30,320.38L319.25,310.43M309.30,323.18L319.25,313.23M309.30,325.98L319.25,316.03M309.30,328.78L319.25,318.83M309.30,331.58L319.25,321.63M309.30,334.38L319.25,324.43M309.30,337.18L319.25,327.23M309.30,339.98L319.25,330.03M309.30,342.78L319.25,332.83M309.30,345.58L319.25,335.63M309.30,348.38L319.25,338.43M309.30,351.18L319.25,341.23M309.30,353.98L319.25,344.03M309.30,356.78L319.25,346.83M309.30,359.58L319.25,349.63M309.30,362.38L319.25,352.43M309.30,365.18L319.25,355.23M309.30,367.98L319.25,358.03M309.30,370.78L319.25,360.83M309.30,373.58L319.25,363.63M309.30,376.38L319.25,366.43M309.30,379.18L319.25,369.23M309.30,381.98L319.25,372.03M309.30,384.78L319.25,374.83M309.30,387.58L319.25,377.63M309.30,390.38L319.25,380.43M309.30,393.18L319.25,383.23" stroke="#111" stroke-width="1.45" fill="none"/></g><rect x="310.30" y="327.78" width="7.95" height="54.72" fill="none" stroke="#111" stroke-width="0.8"/>
<g clip-path="url(#c24)"><rect x="318.25" y="341.96" width="7.95" height="40.54" fill="#fff"/><path d="M317.25,325.91L327.20,318.94M317.25,332.16L327.20,325.19M317.25,338.41L327.20,331.44M317.25,344.66L327.20,337.69M317.25,350.91L327.20,343.94M317.25,357.16L327.20,350.19M317.25,363.41L327.20,356.44M317.25,369.66L327.20,362.69M317.25,375.91L327.20,368.94M317.25,382.16L327.20,375.19M317.25,388.41L327.20,381.44M317.25,394.66L327.20,387.69" stroke="#111" stroke-width="2.70" fill="none"/></g><rect x="318.25" y="341.96" width="7.95" height="40.54" fill="none" stroke="#111" stroke-width="0.8"/>
<path d="M304.85,380.50h1.1v1.1h-1.1zM307.75,377.40h1.1v1.1h-1.1zM304.85,374.30h1.1v1.1h-1.1zM307.75,371.20h1.1v1.1h-1.1zM304.85,368.10h1.1v1.1h-1.1zM307.75,365.00h1.1v1.1h-1.1zM304.85,361.90h1.1v1.1h-1.1zM307.75,358.80h1.1v1.1h-1.1zM304.85,355.70h1.1v1.1h-1.1zM307.75,352.60h1.1v1.1h-1.1zM304.85,349.50h1.1v1.1h-1.1zM307.75,346.40h1.1v1.1h-1.1zM304.85,343.30h1.1v1.1h-1.1zM307.75,340.20h1.1v1.1h-1.1zM304.85,337.10h1.1v1.1h-1.1zM307.75,334.00h1.1v1.1h-1.1zM304.85,330.90h1.1v1.1h-1.1zM307.75,327.80h1.1v1.1h-1.1zM304.85,324.70h1.1v1.1h-1.1zM307.75,321.60h1.1v1.1h-1.1z" fill="#555"/>
<path d="M282.48,325.23V333.74M280.28,325.23H284.68M280.28,333.74H284.68" stroke="#555" stroke-width="0.9" fill="none"/>
<path d="M290.43,290.36V301.14" stroke="#555" stroke-width="1" fill="none"/>
<path d="M298.38,303.40V310.21" stroke="#555" stroke-width="1" fill="none"/>
<path d="M306.33,317.01V322.11M304.13,317.01H308.53M304.13,322.11H308.53" stroke="#555" stroke-width="0.9" fill="none"/>
<path d="M314.28,324.38V331.19M312.08,324.38H316.48M312.08,331.19H316.48" stroke="#555" stroke-width="0.9" fill="none"/>
<path d="M322.23,341.11V342.81M320.03,341.11H324.43M320.03,342.81H324.43" stroke="#555" stroke-width="0.9" fill="none"/>
<text x="302.4" y="400.9" text-anchor="middle" font-size="10" font-weight="bold" stroke="#111" stroke-width="0.4" font-family="'Liberation Sans', sans-serif" fill="#111">G384D</text>
<rect x="337.30" y="258.33" width="7.95" height="124.17" fill="#fff" stroke="#111" stroke-width="0.8"/>
<rect x="345.25" y="258.33" width="7.95" height="124.17" fill="#1c1c1c" stroke="#111" stroke-width="0.8"/>
<g clip-path="url(#c27)"><rect x="353.20" y="246.42" width="7.95" height="136.08" fill="#111"/><path d="M352.20,227.97L362.15,234.94M352.20,234.22L362.15,241.19M352.20,240.47L362.15,247.44M352.20,246.72L362.15,253.69M352.20,252.97L362.15,259.94M352.20,259.22L362.15,266.19M352.20,265.47L362.15,272.44M352.20,271.72L362.15,278.69M352.20,277.97L362.15,284.94M352.20,284.22L362.15,291.19M352.20,290.47L362.15,297.44M352.20,296.72L362.15,303.69M352.20,302.97L362.15,309.94M352.20,309.22L362.15,316.19M352.20,315.47L362.15,322.44M352.20,321.72L362.15,328.69M352.20,327.97L362.15,334.94M352.20,334.22L362.15,341.19M352.20,340.47L362.15,347.44M352.20,346.72L362.15,353.69M352.20,352.97L362.15,359.94M352.20,359.22L362.15,366.19M352.20,365.47L362.15,372.44M352.20,371.72L362.15,378.69M352.20,377.97L362.15,384.94M352.20,384.22L362.15,391.19M352.20,390.47L362.15,397.44" stroke="#fff" stroke-width="1.50" fill="none"/></g><rect x="353.20" y="246.42" width="7.95" height="136.08" fill="none" stroke="#111" stroke-width="0.8"/>
<rect x="361.15" y="244.15" width="7.95" height="138.35" fill="#fff" stroke="#222" stroke-width="0.8"/>
<g clip-path="url(#c29)"><rect x="369.10" y="243.59" width="7.95" height="138.91" fill="#fff"/><path d="M368.10,233.39L378.05,223.44M368.10,236.19L378.05,226.24M368.10,238.99L378.05,229.04M368.10,241.79L378.05,231.84M368.10,244.59L378.05,234.64M368.10,247.39L378.05,237.44M368.10,250.19L378.05,240.24M368.10,252.99L378.05,243.04M368.10,255.79L378.05,245.84M368.10,258.59L378.05,248.64M368.10,261.39L378.05,251.44M368.10,264.19L378.05,254.24M368.10,266.99L378.05,257.04M368.10,269.79L378.05,259.84M368.10,272.59L378.05,262.64M368.10,275.39L378.05,265.44M368.10,278.19L378.05,268.24M368.10,280.99L378.05,271.04M368.10,283.79L378.05,273.84M368.10,286.59L378.05,276.64M368.10,289.39L378.05,279.44M368.10,292.19L378.05,282.24M368.10,294.99L378.05,285.04M368.10,297.79L378.05,287.84M368.10,300.59L378.05,290.64M368.10,303.39L378.05,293.44M368.10,306.19L378.05,296.24M368.10,308.99L378.05,299.04M368.10,311.79L378.05,301.84M368.10,314.59L378.05,304.64M368.10,317.39L378.05,307.44M368.10,320.19L378.05,310.24M368.10,322.99L378.05,313.04M368.10,325.79L378.05,315.84M368.10,328.59L378.05,318.64M368.10,331.39L378.05,321.44M368.10,334.19L378.05,324.24M368.10,336.99L378.05,327.04M368.10,339.79L378.05,329.84M368.10,342.59L378.05,332.64M368.10,345.39L378.05,335.44M368.10,348.19L378.05,338.24M368.10,350.99L378.05,341.04M368.10,353.79L378.05,343.84M368.10,356.59L378.05,346.64M368.10,359.39L378.05,349.44M368.10,362.19L378.05,352.24M368.10,364.99L378.05,355.04M368.10,367.79L378.05,357.84M368.10,370.59L378.05,360.64M368.10,373.39L378.05,363.44M368.10,376.19L378.05,366.24M368.10,378.99L378.05,369.04M368.10,381.79L378.05,371.84M368.10,384.59L378.05,374.64M368.10,387.39L378.05,377.44M368.10,390.19L378.05,380.24M368.10,392.99L378.05,383.04" stroke="#111" stroke-width="1.45" fill="none"/></g><rect x="369.10" y="243.59" width="7.95" height="138.91" fill="none" stroke="#111" stroke-width="0.8"/>
<g clip-path="url(#c30)"><rect x="377.05" y="255.78" width="7.95" height="126.72" fill="#fff"/><path d="M376.05,239.73L386.00,232.76M376.05,245.98L386.00,239.01M376.05,252.23L386.00,245.26M376.05,258.48L386.00,251.51M376.05,264.73L386.00,257.76M376.05,270.98L386.00,264.01M376.05,277.23L386.00,270.26M376.05,283.48L386.00,276.51M376.05,289.73L386.00,282.76M376.05,295.98L386.00,289.01M376.05,302.23L386.00,295.26M376.05,308.48L386.00,301.51M376.05,314.73L386.00,307.76M376.05,320.98L386.00,314.01M376.05,327.23L386.00,320.26M376.05,333.48L386.00,326.51M376.05,339.73L386.00,332.76M376.05,345.98L386.00,339.01M376.05,352.23L386.00,345.26M376.05,358.48L386.00,351.51M376.05,364.73L386.00,357.76M376.05,370.98L386.00,364.01M376.05,377.23L386.00,370.26M376.05,383.48L386.00,376.51M376.05,389.73L386.00,382.76" stroke="#111" stroke-width="2.70" fill="none"/></g><rect x="377.05" y="255.78" width="7.95" height="126.72" fill="none" stroke="#111" stroke-width="0.8"/>
<path d="M363.65,380.50h1.1v1.1h-1.1zM366.55,377.40h1.1v1.1h-1.1zM363.65,374.30h1.1v1.1h-1.1zM366.55,371.20h1.1v1.1h-1.1zM363.65,368.10h1.1v1.1h-1.1zM366.55,365.00h1.1v1.1h-1.1zM363.65,361.90h1.1v1.1h-1.1zM366.55,358.80h1.1v1.1h-1.1zM363.65,355.70h1.1v1.1h-1.1zM366.55,352.60h1.1v1.1h-1.1zM363.65,349.50h1.1v1.1h-1.1zM366.55,346.40h1.1v1.1h-1.1zM363.65,343.30h1.1v1.1h-1.1zM366.55,340.20h1.1v1.1h-1.1zM363.65,337.10h1.1v1.1h-1.1zM366.55,334.00h1.1v1.1h-1.1zM363.65,330.90h1.1v1.1h-1.1zM366.55,327.80h1.1v1.1h-1.1zM363.65,324.70h1.1v1.1h-1.1zM366.55,321.60h1.1v1.1h-1.1zM363.65,318.50h1.1v1.1h-1.1zM366.55,315.40h1.1v1.1h-1.1zM363.65,312.30h1.1v1.1h-1.1zM366.55,309.20h1.1v1.1h-1.1zM363.65,306.10h1.1v1.1h-1.1zM366.55,303.00h1.1v1.1h-1.1zM363.65,299.90h1.1v1.1h-1.1zM366.55,296.80h1.1v1.1h-1.1zM363.65,293.70h1.1v1.1h-1.1zM366.55,290.60h1.1v1.1h-1.1zM363.65,287.50h1.1v1.1h-1.1zM366.55,284.40h1.1v1.1h-1.1zM363.65,281.30h1.1v1.1h-1.1zM366.55,278.20h1.1v1.1h-1.1zM363.65,275.10h1.1v1.1h-1.1zM366.55,272.00h1.1v1.1h-1.1zM363.65,268.90h1.1v1.1h-1.1zM366.55,265.80h1.1v1.1h-1.1zM363.65,262.70h1.1v1.1h-1.1zM366.55,259.60h1.1v1.1h-1.1zM363.65,256.50h1.1v1.1h-1.1zM366.55,253.40h1.1v1.1h-1.1zM363.65,250.30h1.1v1.1h-1.1zM366.55,247.20h1.1v1.1h-1.1z" fill="#555"/>
<path d="M341.28,254.07V262.58M339.08,254.07H343.48M339.08,262.58H343.48" stroke="#555" stroke-width="0.9" fill="none"/>
<path d="M349.23,248.40V258.33" stroke="#555" stroke-width="1" fill="none"/>
<path d="M357.18,244.72V246.42" stroke="#555" stroke-width="1" fill="none"/>
<path d="M365.13,237.06V251.24M362.93,237.06H367.33M362.93,251.24H367.33" stroke="#555" stroke-width="0.9" fill="none"/>
<path d="M373.08,240.18V246.99M370.88,240.18H375.28M370.88,246.99H375.28" stroke="#555" stroke-width="0.9" fill="none"/>
<path d="M381.03,250.67V260.88M378.83,250.67H383.23M378.83,260.88H383.23" stroke="#555" stroke-width="0.9" fill="none"/>
<text x="361.5" y="400.9" text-anchor="middle" font-size="10" font-weight="bold" stroke="#111" stroke-width="0.4" font-family="'Liberation Sans', sans-serif" fill="#111">807C</text>
<rect x="396.30" y="319.56" width="7.95" height="62.94" fill="#fff" stroke="#111" stroke-width="0.8"/>
<rect x="404.25" y="293.48" width="7.95" height="89.02" fill="#1c1c1c" stroke="#111" stroke-width="0.8"/>
<g clip-path="url(#c33)"><rect x="412.20" y="299.72" width="7.95" height="82.78" fill="#111"/><path d="M411.20,281.27L421.15,288.23M411.20,287.52L421.15,294.48M411.20,293.77L421.15,300.73M411.20,300.02L421.15,306.98M411.20,306.27L421.15,313.23M411.20,312.52L421.15,319.48M411.20,318.77L421.15,325.73M411.20,325.02L421.15,331.98M411.20,331.27L421.15,338.23M411.20,337.52L421.15,344.48M411.20,343.77L421.15,350.73M411.20,350.02L421.15,356.98M411.20,356.27L421.15,363.23M411.20,362.52L421.15,369.48M411.20,368.77L421.15,375.73M411.20,375.02L421.15,381.98M411.20,381.27L421.15,388.23M411.20,387.52L421.15,394.48" stroke="#fff" stroke-width="1.50" fill="none"/></g><rect x="412.20" y="299.72" width="7.95" height="82.78" fill="none" stroke="#111" stroke-width="0.8"/>
<rect x="420.15" y="307.09" width="7.95" height="75.41" fill="#fff" stroke="#222" stroke-width="0.8"/>
<g clip-path="url(#c35)"><rect x="428.10" y="313.04" width="7.95" height="69.46" fill="#fff"/><path d="M427.10,302.84L437.05,292.89M427.10,305.64L437.05,295.69M427.10,308.44L437.05,298.49M427.10,311.24L437.05,301.29M427.10,314.04L437.05,304.09M427.10,316.84L437.05,306.89M427.10,319.64L437.05,309.69M427.10,322.44L437.05,312.49M427.10,325.24L437.05,315.29M427.10,328.04L437.05,318.09M427.10,330.84L437.05,320.89M427.10,333.64L437.05,323.69M427.10,336.44L437.05,326.49M427.10,339.24L437.05,329.29M427.10,342.04L437.05,332.09M427.10,344.84L437.05,334.89M427.10,347.64L437.05,337.69M427.10,350.44L437.05,340.49M427.10,353.24L437.05,343.29M427.10,356.04L437.05,346.09M427.10,358.84L437.05,348.89M427.10,361.64L437.05,351.69M427.10,364.44L437.05,354.49M427.10,367.24L437.05,357.29M427.10,370.04L437.05,360.09M427.10,372.84L437.05,362.89M427.10,375.64L437.05,365.69M427.10,378.44L437.05,368.49M427.10,381.24L437.05,371.29M427.10,384.04L437.05,374.09M427.10,386.84L437.05,376.89M427.10,389.64L437.05,379.69M427.10,392.44L437.05,382.49" stroke="#111" stroke-width="1.45" fill="none"/></g><rect x="428.10" y="313.04" width="7.95" height="69.46" fill="none" stroke="#111" stroke-width="0.8"/>
<g clip-path="url(#c36)"><rect x="436.05" y="338.27" width="7.95" height="44.23" fill="#fff"/><path d="M435.05,322.22L445.00,315.26M435.05,328.47L445.00,321.51M435.05,334.72L445.00,327.76M435.05,340.97L445.00,334.01M435.05,347.22L445.00,340.26M435.05,353.47L445.00,346.51M435.05,359.72L445.00,352.76M435.05,365.97L445.00,359.01M435.05,372.22L445.00,365.26M435.05,378.47L445.00,371.51M435.05,384.72L445.00,377.76M435.05,390.97L445.00,384.01" stroke="#111" stroke-width="2.70" fill="none"/></g><rect x="436.05" y="338.27" width="7.95" height="44.23" fill="none" stroke="#111" stroke-width="0.8"/>
<path d="M422.65,380.50h1.1v1.1h-1.1zM425.55,377.40h1.1v1.1h-1.1zM422.65,374.30h1.1v1.1h-1.1zM425.55,371.20h1.1v1.1h-1.1zM422.65,368.10h1.1v1.1h-1.1zM425.55,365.00h1.1v1.1h-1.1zM422.65,361.90h1.1v1.1h-1.1zM425.55,358.80h1.1v1.1h-1.1zM422.65,355.70h1.1v1.1h-1.1zM425.55,352.60h1.1v1.1h-1.1zM422.65,349.50h1.1v1.1h-1.1zM425.55,346.40h1.1v1.1h-1.1zM422.65,343.30h1.1v1.1h-1.1zM425.55,340.20h1.1v1.1h-1.1zM422.65,337.10h1.1v1.1h-1.1zM425.55,334.00h1.1v1.1h-1.1zM422.65,330.90h1.1v1.1h-1.1zM425.55,327.80h1.1v1.1h-1.1zM422.65,324.70h1.1v1.1h-1.1zM425.55,321.60h1.1v1.1h-1.1zM422.65,318.50h1.1v1.1h-1.1zM425.55,315.40h1.1v1.1h-1.1zM422.65,312.30h1.1v1.1h-1.1zM425.55,309.20h1.1v1.1h-1.1z" fill="#555"/>
<path d="M400.28,313.33V325.80M398.08,313.33H402.48M398.08,325.80H402.48" stroke="#555" stroke-width="0.9" fill="none"/>
<path d="M408.23,285.26V293.48" stroke="#555" stroke-width="1" fill="none"/>
<path d="M416.18,296.03V299.72" stroke="#555" stroke-width="1" fill="none"/>
<path d="M424.13,297.73V316.44M421.93,297.73H426.33M421.93,316.44H426.33" stroke="#555" stroke-width="0.9" fill="none"/>
<path d="M432.08,309.92V316.16M429.88,309.92H434.28M429.88,316.16H434.28" stroke="#555" stroke-width="0.9" fill="none"/>
<path d="M440.03,331.47V345.08M437.83,331.47H442.23M437.83,345.08H442.23" stroke="#555" stroke-width="0.9" fill="none"/>
<text x="420.6" y="400.9" text-anchor="middle" font-size="10" font-weight="bold" stroke="#111" stroke-width="0.4" font-family="'Liberation Sans', sans-serif" fill="#111">Y373C</text>
<rect x="160.7" y="221.3" width="124.6" height="62" fill="#fff" stroke="#c4c4c4" stroke-width="0.9"/>
<rect x="166.00" y="231.10" width="6.60" height="6.70" fill="#fff" stroke="#111" stroke-width="0.8"/>
<text x="175.7" y="238.1" font-size="7.5" font-weight="bold" stroke="#111" stroke-width="0.25" font-family="'Liberation Sans', sans-serif" fill="#111">unstimulated</text>
<rect x="233.60" y="231.10" width="6.60" height="6.70" fill="#1c1c1c" stroke="#111" stroke-width="0.8"/>
<text x="243.3" y="238.1" font-size="7.5" font-weight="bold" stroke="#111" stroke-width="0.25" font-family="'Liberation Sans', sans-serif" fill="#111">FGF</text>
<g clip-path="url(#c39)"><rect x="166.00" y="247.90" width="6.60" height="6.70" fill="#111"/><path d="M165.00,235.70L173.60,241.72M165.00,241.95L173.60,247.97M165.00,248.20L173.60,254.22M165.00,254.45L173.60,260.47M165.00,260.70L173.60,266.72" stroke="#fff" stroke-width="1.50" fill="none"/></g><rect x="166.00" y="247.90" width="6.60" height="6.70" fill="none" stroke="#111" stroke-width="0.8"/>
<text x="175.7" y="254.9" font-size="7.5" font-weight="bold" stroke="#111" stroke-width="0.25" font-family="'Liberation Sans', sans-serif" fill="#111">1 ug/mL</text>
<rect x="233.60" y="247.90" width="6.60" height="6.70" fill="#fff" stroke="#222" stroke-width="0.8"/>
<text x="243.3" y="254.9" font-size="7.5" font-weight="bold" stroke="#111" stroke-width="0.25" font-family="'Liberation Sans', sans-serif" fill="#111">3 ug/mL</text>
<g clip-path="url(#c41)"><rect x="166.00" y="264.80" width="6.60" height="6.70" fill="#fff"/><path d="M165.00,254.60L173.60,246.00M165.00,257.40L173.60,248.80M165.00,260.20L173.60,251.60M165.00,263.00L173.60,254.40M165.00,265.80L173.60,257.20M165.00,268.60L173.60,260.00M165.00,271.40L173.60,262.80M165.00,274.20L173.60,265.60M165.00,277.00L173.60,268.40M165.00,279.80L173.60,271.20" stroke="#111" stroke-width="1.45" fill="none"/></g><rect x="166.00" y="264.80" width="6.60" height="6.70" fill="none" stroke="#111" stroke-width="0.8"/>
<text x="175.7" y="271.8" font-size="7.5" font-weight="bold" stroke="#111" stroke-width="0.25" font-family="'Liberation Sans', sans-serif" fill="#111">5 ug/mL</text>
<g clip-path="url(#c42)"><rect x="233.60" y="264.80" width="6.60" height="6.70" fill="#fff"/><path d="M232.60,248.75L241.20,242.73M232.60,255.00L241.20,248.98M232.60,261.25L241.20,255.23M232.60,267.50L241.20,261.48M232.60,273.75L241.20,267.73M232.60,280.00L241.20,273.98" stroke="#111" stroke-width="2.70" fill="none"/></g><rect x="233.60" y="264.80" width="6.60" height="6.70" fill="none" stroke="#111" stroke-width="0.8"/>
<text x="243.3" y="271.8" font-size="7.5" font-weight="bold" stroke="#111" stroke-width="0.25" font-family="'Liberation Sans', sans-serif" fill="#111">PD173074</text>
</svg>
</body></html>
